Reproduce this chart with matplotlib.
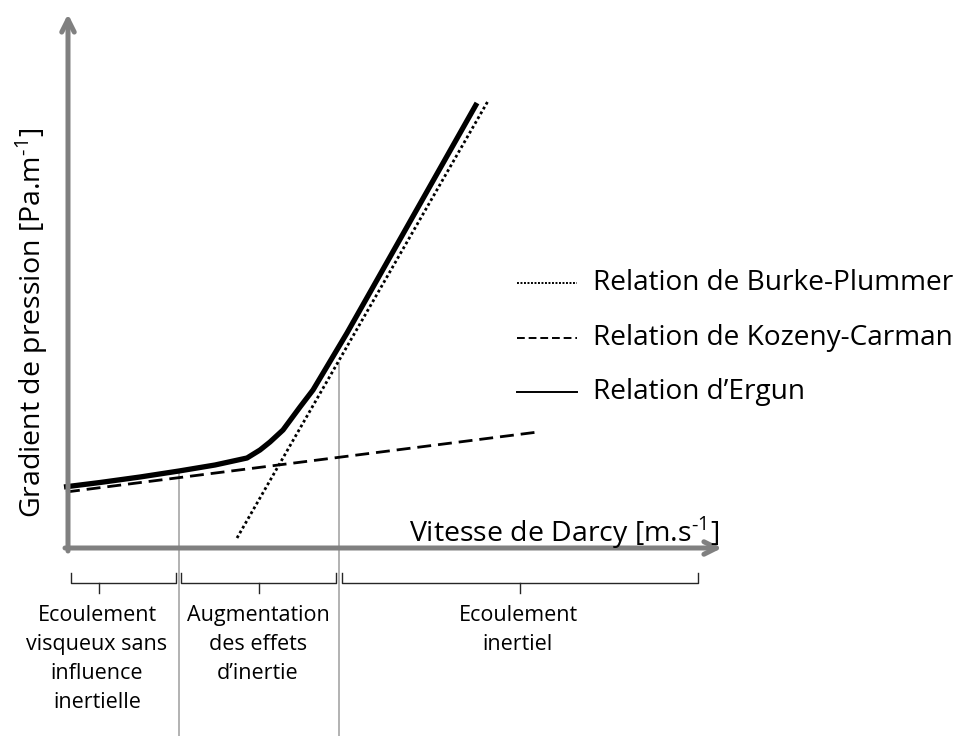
import numpy as np
import matplotlib.pyplot as plt

plt.rcParams['font.family'] = ['Open Sans', 'DejaVu Sans']
plt.rcParams['mathtext.fontset'] = 'custom'
plt.rcParams['mathtext.rm'] = 'Open Sans'

# schematic curves (arbitrary units, origin at axis corner)
kc_x = [-2, 470]
kc_y = [56, 116]
bp_x = [169, 420]
bp_y = [10, 447]
erg_x = [-4, 32, 72, 111, 147, 179, 192, 202, 215, 232, 245, 279, 309, 409]
erg_y = [61, 65.5, 71, 77, 83, 90, 98, 106, 118, 141, 158, 215, 268, 445]

# regime boundaries and braces
bound_x = [111, 271]
bound_top = [77, 185]
brace_start = [3, 113, 274]
brace_end = [108, 268, 630]
brace_tip = [31, 191, 452]
regimes = ['Ecoulement\nvisqueux sans\ninfluence\ninertielle',
           'Augmentation\ndes effets\nd\u2019inertie',
           'Ecoulement\ninertiel']
regime_x = [29, 190, 450]

labels = ['Relation de Burke-Plummer', 'Relation de Kozeny-Carman', 'Relation d\u2019Ergun']

fig = plt.figure(figsize=(9.63, 7.36), dpi=100)
ax = fig.add_axes([0, 0, 1, 1])
ax.set_xlim(-68, 895)
ax.set_ylim(-188, 548)
ax.axis('off')

grey = '#808080'
# axes arrows
ax.annotate('', xy=(0, 534), xytext=(0, -3),
            arrowprops=dict(arrowstyle='->,head_length=0.9,head_width=0.45',
                            lw=3.6, color=grey, shrinkA=0, shrinkB=0))
ax.annotate('', xy=(654, 0), xytext=(-3, 0),
            arrowprops=dict(arrowstyle='->,head_length=0.9,head_width=0.45',
                            lw=3.6, color=grey, shrinkA=0, shrinkB=0))

# boundaries
for bx, bt in zip(bound_x, bound_top):
    ax.plot([bx, bx], [bt, -188], color='#a6a6a6', lw=1.2, zorder=1)

# curves
ax.plot(kc_x, kc_y, color='black', lw=2, linestyle=(0, (5, 2.5)))
ax.plot(bp_x, bp_y, color='black', lw=2, linestyle=(0, (1, 1)))
ax.plot(erg_x, erg_y, color='black', lw=3.8, solid_capstyle='butt', solid_joinstyle='round')

# braces
for s, e, t, txt, tx in zip(brace_start, brace_end, brace_tip, regimes, regime_x):
    ax.plot([s, s, e, e], [-25, -35, -35, -25], color='#262626', lw=1)
    ax.plot([t, t], [-35, -45], color='#262626', lw=1)
    ax.text(tx, -57, txt, ha='center', va='top', fontsize=15.5, linespacing=1.5)

# legend
leg_y = [265, 210, 156]
styles = [(0, (1, 0.8)), (0, (4, 2)), '-']
for yy, st, lab in zip(leg_y, styles, labels):
    ax.plot([449, 509], [yy, yy], color='black', lw=1.4, linestyle=st)
    ax.text(525, yy, lab, ha='left', va='center', fontsize=20.2)

# axis labels
sup = '$^{\\mathregular{\u2010}\\mathregular{1}}$'
ax.text(651, 15, 'Vitesse de Darcy [m.s' + sup + ']', ha='right', va='center', fontsize=20.5)
ax.text(-36, 225, 'Gradient de pression [Pa.m' + sup + ']', ha='center', va='center',
        fontsize=20.5, rotation=90)

fig.savefig('out.png', dpi=100)
